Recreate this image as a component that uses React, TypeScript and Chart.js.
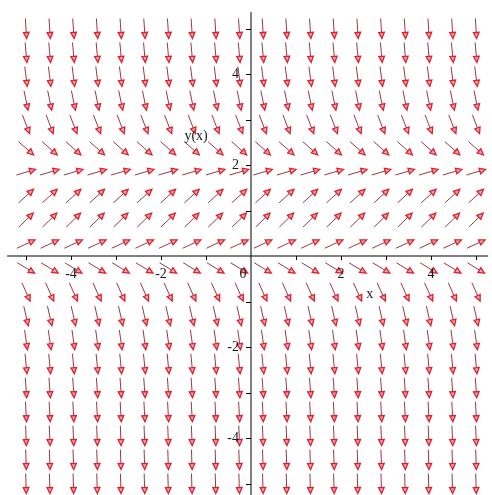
import React, { useEffect, useRef } from "react";
import { Chart, registerables } from "chart.js";

Chart.register(...registerables);

// Direction field of dy/dx = y(2 - y) on a 20 x 20 grid over [-5, 5] x [-5, 5]
const gridX = [
  -5, -4.474, -3.947, -3.421, -2.895, -2.368, -1.842, -1.316, -0.789, -0.263,
  0.263, 0.789, 1.316, 1.842, 2.368, 2.895, 3.421, 3.947, 4.474, 5,
];
const gridY = [
  -5, -4.474, -3.947, -3.421, -2.895, -2.368, -1.842, -1.316, -0.789, -0.263,
  0.263, 0.789, 1.316, 1.842, 2.368, 2.895, 3.421, 3.947, 4.474, 5,
];
// slope of the field along each row of gridY (same for every x)
const rowSlopes = [
  -35, -28.96, -23.48, -18.55, -14.17, -10.35, -7.08, -4.36, -2.2, -0.6,
  0.46, 0.96, 0.9, 0.29, -0.87, -2.59, -4.86, -7.69, -11.07, -15,
];

const xTicks = [-5, -4, -3, -2, -1, 1, 2, 3, 4, 5];
const yTicks = [-5, -4, -3, -2, -1, 1, 2, 3, 4, 5];
const xTickLabels = [
  { v: -4, text: "-4" },
  { v: -2, text: "-2" },
  { v: -0.18, text: "0" },
  { v: 2, text: "2" },
  { v: 4, text: "4" },
];
const yTickLabels = [
  { v: 4, text: "4" },
  { v: 2, text: "2" },
  { v: -2, text: "-2" },
  { v: -4, text: "-4" },
];
const xAxisName = { text: "x", x: 2.64, y: -0.84 };
const yAxisName = { text: "y(x)", x: -1.22, y: 2.62 };

const xRange = [-251 / 45, (492 - 251) / 45];
const yRange = [-(495 - 256) / 45.5, 256 / 45.5];
const xAxisSpan = [-5.42, 5.27];
const yAxisSpan = [-5.3, 5.36];

const fieldPoints = gridY.flatMap((y, j) =>
  gridX.map((x) => ({ x, y, s: rowSlopes[j] }))
);

const arrowPlugin = {
  id: "fieldArrows",
  afterDatasetsDraw(chart: any) {
    const { ctx } = chart;
    const xs = chart.scales.x;
    const ys = chart.scales.y;
    const meta = chart.getDatasetMeta(0);
    const len = 20;
    const headLen = 6;
    const headHalf = 2.8;
    ctx.save();
    meta.data.forEach((el: any, i: number) => {
      const p = fieldPoints[i];
      const cx = el.x;
      const cy = el.y;
      const h = 0.01;
      const dx = xs.getPixelForValue(p.x + h) - xs.getPixelForValue(p.x);
      const dy = ys.getPixelForValue(p.y + p.s * h) - ys.getPixelForValue(p.y);
      const m = Math.hypot(dx, dy);
      const ux = dx / m;
      const uy = dy / m;
      const tx = cx - (ux * len) / 2;
      const ty = cy - (uy * len) / 2;
      const hx = cx + (ux * len) / 2;
      const hy = cy + (uy * len) / 2;
      const bx = hx - ux * headLen;
      const by = hy - uy * headLen;
      // shaft
      ctx.strokeStyle = "#9a3846";
      ctx.lineWidth = 1;
      ctx.beginPath();
      ctx.moveTo(tx, ty);
      ctx.lineTo(bx, by);
      ctx.stroke();
      // open head
      ctx.beginPath();
      ctx.moveTo(hx, hy);
      ctx.lineTo(bx - uy * headHalf, by + ux * headHalf);
      ctx.lineTo(bx + uy * headHalf, by - ux * headHalf);
      ctx.closePath();
      ctx.fillStyle = "#f2aab2";
      ctx.fill();
      ctx.strokeStyle = "#de1f2d";
      ctx.lineWidth = 1.3;
      ctx.stroke();
    });

    // axes through the origin
    const x0 = xs.getPixelForValue(0);
    const y0 = ys.getPixelForValue(0);
    ctx.strokeStyle = "#000";
    ctx.lineWidth = 1;
    ctx.beginPath();
    ctx.moveTo(xs.getPixelForValue(xAxisSpan[0]), y0);
    ctx.lineTo(xs.getPixelForValue(xAxisSpan[1]), y0);
    ctx.moveTo(x0, ys.getPixelForValue(yAxisSpan[1]));
    ctx.lineTo(x0, ys.getPixelForValue(yAxisSpan[0]));
    xTicks.forEach((v) => {
      const px = Math.round(xs.getPixelForValue(v)) + 0.5;
      ctx.moveTo(px, y0);
      ctx.lineTo(px, y0 + 4);
    });
    yTicks.forEach((v) => {
      const py = Math.round(ys.getPixelForValue(v)) + 0.5;
      ctx.moveTo(x0, py);
      ctx.lineTo(x0 - 5, py);
    });
    ctx.stroke();

    ctx.fillStyle = "#1a1a1a";
    ctx.font = '14px "Liberation Serif", serif';
    ctx.textAlign = "center";
    ctx.textBaseline = "middle";
    xTickLabels.forEach((t) => {
      ctx.fillText(t.text, xs.getPixelForValue(t.v), y0 + 18);
    });
    ctx.textAlign = "right";
    yTickLabels.forEach((t) => {
      ctx.fillText(t.text, x0 - 12, ys.getPixelForValue(t.v));
    });
    ctx.textAlign = "center";
    ctx.fillText(xAxisName.text, xs.getPixelForValue(xAxisName.x), ys.getPixelForValue(xAxisName.y));
    ctx.fillText(yAxisName.text, xs.getPixelForValue(yAxisName.x), ys.getPixelForValue(yAxisName.y));
    ctx.restore();
  },
};

export default function App() {
  const canvasRef = useRef<HTMLCanvasElement | null>(null);

  useEffect(() => {
    const canvas = canvasRef.current;
    if (!canvas) return;
    const chart = new Chart(canvas, {
      type: "scatter",
      data: {
        datasets: [
          {
            data: fieldPoints.map((p) => ({ x: p.x, y: p.y })),
            pointRadius: 0,
            pointHoverRadius: 0,
          },
        ],
      },
      options: {
        animation: false,
        responsive: false,
        events: [],
        layout: { padding: 0 },
        plugins: {
          legend: { display: false },
          tooltip: { enabled: false },
        },
        scales: {
          x: { type: "linear", min: xRange[0], max: xRange[1], display: false },
          y: { type: "linear", min: yRange[0], max: yRange[1], display: false },
        },
      },
      plugins: [arrowPlugin],
    });
    return () => chart.destroy();
  }, []);

  return (
    <div style={{ position: "fixed", left: 0, top: 0, width: 492, height: 495, background: "#fff" }}>
      <canvas ref={canvasRef} width={492} height={495} style={{ display: "block" }} />
    </div>
  );
}
